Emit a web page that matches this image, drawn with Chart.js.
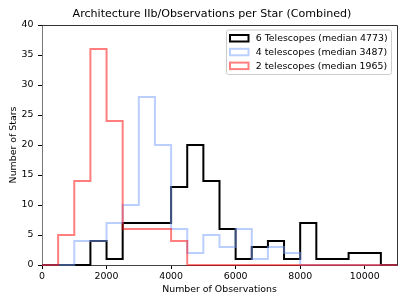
<!DOCTYPE html>
<html>
<head>
<meta charset="utf-8">
<script src="https://cdn.jsdelivr.net/npm/chart.js@4/dist/chart.umd.min.js"></script>
<style>
  html, body { margin: 0; padding: 0; background: #fff; }
  #wrap { width: 407px; height: 305px; }
</style>
</head>
<body>
<div id="wrap"><canvas id="grafico" width="407" height="305"></canvas></div>
<script>
// bin edges (500 wide) and counts per bin
const binEdges = [0, 500, 1000, 1500, 2000, 2500, 3000, 3500, 4000, 4500, 5000, 5500,
  6000, 6500, 7000, 7500, 8000, 8500, 9000, 9500, 10000, 10500, 11000];

const seisTel = [0, 0, 0, 4, 1, 7, 7, 7, 13, 20, 14, 6, 1, 3, 4, 1, 7, 1, 1, 2, 2, 0];
const quatroTel = [0, 0, 4, 4, 7, 10, 28, 20, 6, 2, 5, 3, 6, 1, 3, 2, 0, 0, 0, 0, 0, 0];
const doisTel = [0, 5, 14, 36, 24, 6, 6, 6, 4, 0, 0, 0, 0, 0, 0, 0, 0, 0, 0, 0, 0, 0];

const nomes = ["6 Telescopes (median 4773)", "4 telescopes (median 3487)", "2 telescopes (median 1965)"];
const xTicks = [0, 2000, 4000, 6000, 8000, 10000];
const yTicks = [0, 5, 10, 15, 20, 25, 30, 35, 40];

const cores = ["#000000", "rgba(120,160,255,0.5)", "rgba(255,0,0,0.5)"];

// step outline of a histogram
function degraus(contagens) {
  let pts = [{ x: binEdges[0], y: 0 }];
  contagens.forEach((c, i) => pts.push({ x: binEdges[i], y: c }));
  let ult = contagens[contagens.length - 1];
  pts.push({ x: binEdges[binEdges.length - 1], y: ult });
  pts.push({ x: binEdges[binEdges.length - 1], y: 0 });
  return pts;
}

const fonte = "DejaVu Sans";
const tam = 9.4;

// title and legend drawn like matplotlib
const extras = {
  id: "extras",
  afterDraw(chart) {
    const c = chart.ctx;
    c.save();
    c.fillStyle = "#000";
    c.font = "11.1px '" + fonte + "'";
    c.textAlign = "center";
    c.textBaseline = "middle";
    c.fillText("Architecture IIb/Observations per Star (Combined)", 212, 14.5);

    // legend box
    const bx = 226.5, by = 30, bw = 165, bh = 44.5;
    c.fillStyle = "rgba(255,255,255,0.8)";
    c.strokeStyle = "#cccccc";
    c.lineWidth = 1;
    c.beginPath();
    c.roundRect(bx, by, bw, bh, 2);
    c.fill();
    c.stroke();
    c.font = tam + "px '" + fonte + "'";
    c.textAlign = "left";
    nomes.forEach((n, i) => {
      const yy = 38 + i * 13.8;
      c.strokeStyle = cores[i];
      c.lineWidth = 2;
      c.strokeRect(230, yy - 3, 18.5, 6.5);
      c.fillStyle = "#000";
      c.fillText(n, 255.7, yy + 0.5);
    });
    c.restore();
  }
};

const ctx = document.getElementById("grafico").getContext("2d");

new Chart(ctx, {
  type: "line",
  data: {
    datasets: [
      { data: degraus(seisTel), borderColor: cores[0], order: 3 },
      { data: degraus(quatroTel), borderColor: cores[1], order: 2 },
      { data: degraus(doisTel), borderColor: cores[2], order: 1 }
    ].map(d => Object.assign(d, {
      stepped: true, borderWidth: 2, pointRadius: 0, fill: false,
      tension: 0, clip: false, borderJoinStyle: "miter"
    }))
  },
  options: {
    responsive: false,
    animation: false,
    events: [],
    layout: { padding: { top: 25, right: 10, left: 0, bottom: 0 } },
    plugins: {
      legend: { display: false },
      title: { display: false },
      tooltip: { enabled: false }
    },
    scales: {
      x: {
        type: "linear",
        min: 0,
        max: 11000,
        afterBuildTicks: s => { s.ticks = xTicks.map(v => ({ value: v })); },
        afterFit: s => { s.height = 40; },
        ticks: {
          color: "#000", padding: 2, maxRotation: 0,
          font: { family: fonte, size: tam },
          callback: v => String(v)
        },
        grid: { drawOnChartArea: false, tickLength: 4, color: "#000" },
        border: { color: "#444", width: 1 },
        title: {
          display: true, text: "Number of Observations", color: "#000",
          font: { family: fonte, size: tam }, padding: { top: 0, bottom: 10 }
        }
      },
      y: {
        min: 0,
        max: 40,
        afterBuildTicks: s => { s.ticks = yTicks.map(v => ({ value: v })); },
        afterFit: s => { s.width = 42; },
        ticks: { color: "#000", padding: 4.5, font: { family: fonte, size: tam } },
        grid: { drawOnChartArea: false, tickLength: 4, color: "#000" },
        border: { color: "#777", width: 1 },
        title: {
          display: true, text: "Number of Stars", color: "#000",
          font: { family: fonte, size: tam }, padding: { top: 8, bottom: 0 }
        }
      }
    }
  },
  plugins: [extras, {
    id: "moldura",
    beforeDatasetsDraw(chart) {
      const c = chart.ctx, a = chart.chartArea;
      c.save();
      c.strokeStyle = "#333";
      c.lineWidth = 1;
      c.beginPath();
      c.moveTo(a.left, a.top + 0.5);
      c.lineTo(a.right + 0.5, a.top + 0.5);
      c.lineTo(a.right + 0.5, a.bottom);
      c.stroke();
      c.restore();
    }
  }]
});
</script>
</body>
</html>
